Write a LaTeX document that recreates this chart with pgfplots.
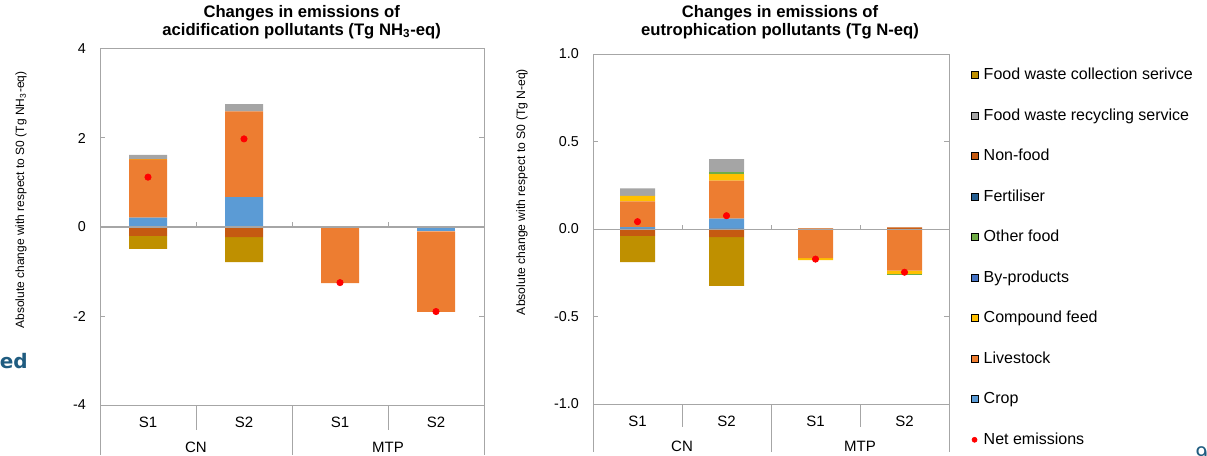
\documentclass[border=0pt]{standalone}
\usepackage{pgfplots}
\pgfplotsset{compat=1.18}
\usepackage{pgfplotstable}
\usepackage{fontspec}
\setmainfont{Liberation Sans}
\newfontfamily\dejavu{DejaVu Sans}

\definecolor{ccoll}{HTML}{BF9000}
\definecolor{crecy}{HTML}{A5A5A5}
\definecolor{cnonf}{HTML}{C55A11}
\definecolor{cfert}{HTML}{255E91}
\definecolor{coth}{HTML}{70AD47}
\definecolor{cbyp}{HTML}{4472C4}
\definecolor{ccomp}{HTML}{FFC000}
\definecolor{clive}{HTML}{ED7D31}
\definecolor{ccrop}{HTML}{5B9BD5}
\definecolor{fgray}{HTML}{A6A6A6}
\definecolor{teal}{HTML}{1F5C80}

\newcommand\tk{\fontsize{8.6}{10}\selectfont}
\newcommand\ck{\fontsize{9}{10.5}\selectfont}
\newcommand\lgfont{\fontsize{9.6}{11}\selectfont}

% acidification, positive and negative parts (Tg NH3-eq)
\pgfplotstableread{
x crop live comp byp oth fert nonf recy coll
0 0.21 1.31 0.01 0 0 0 0 0.09 0
1 0.67 1.93 0 0 0 0 0 0.16 0
2 0 0 0 0 0 0 0 0 0
3 0 0 0 0 0 0 0 0 0
}\acidpos
\pgfplotstableread{
x crop live comp byp oth fert nonf recy coll
0 0 0 0 0 0 0 -0.20 0 -0.29
1 0 0 0 0 0 0 -0.23 0 -0.56
2 0 -1.26 0 0 0 0 0 0 0
3 -0.10 -1.81 0 0 0 0 0 0 0
}\acidneg
\pgfplotstableread{
x net
0 1.12
1 1.98
2 -1.25
3 -1.90
}\acidnet

% eutrophication (Tg N-eq)
\pgfplotstableread{
x crop live comp byp oth fert nonf recy coll
0 0.011 0.147 0.032 0 0 0 0 0.042 0
1 0.059 0.217 0.038 0 0.013 0 0 0.073 0
2 0 0 0 0 0 0 0.004 0 0
3 0 0 0 0 0 0 0.010 0 0
}\eutpos
\pgfplotstableread{
x crop live comp byp oth fert nonf recy coll
0 0 0 0 0 0 0 -0.040 0 -0.150
1 0 0 0 0 0 0 -0.047 0 -0.278
2 0 -0.167 -0.011 0 0 0 0 0 0
3 0 -0.238 -0.019 0 -0.005 0 0 0 0
}\eutneg
\pgfplotstableread{
x net
0 0.042
1 0.076
2 -0.172
3 -0.247
}\eutnet

\newcommand\bars[1]{%
\addplot[fill=ccrop, draw=none] table[x=x,y=crop]{#1};
\addplot[fill=clive, draw=none] table[x=x,y=live]{#1};
\addplot[fill=ccomp, draw=none] table[x=x,y=comp]{#1};
\addplot[fill=cbyp, draw=none] table[x=x,y=byp]{#1};
\addplot[fill=coth, draw=none] table[x=x,y=oth]{#1};
\addplot[fill=cfert, draw=none] table[x=x,y=fert]{#1};
\addplot[fill=cnonf, draw=none] table[x=x,y=nonf]{#1};
\addplot[fill=crecy, draw=none] table[x=x,y=recy]{#1};
\addplot[fill=ccoll, draw=none] table[x=x,y=coll]{#1};
}

\pgfplotsset{
  common/.style={scale only axis, anchor=south west, xmin=-0.5, xmax=3.5,
    enlargelimits=false, clip=false,
    /pgf/number format/assume math mode=true,
    tick label style={font=\tk}},
  frame/.style={axis line style={draw=fgray, line width=0.6pt},
    xtick={0,1,2,3}, xticklabels={S1,S2,S1,S2},
    major x tick style={draw=none},
    xticklabel style={anchor=center, yshift=-10.5pt, font=\ck},
    ytick style={draw=fgray, line width=0.6pt},
    tick align=inside, major tick length=3pt,
    yticklabel style={xshift=-5pt}},
}

\begin{document}
\begin{tikzpicture}
\useasboundingbox (0,0) rectangle (724.2pt,273pt);

%================ LEFT CHART ================
\begin{axis}[common, frame, at={(60pt,30pt)}, width=230.4pt, height=213.6pt,
  ymin=-4, ymax=4, ytick={-4,-2,0,2,4}, ybar stacked, bar width=22.8pt]
\bars{\acidpos}
\end{axis}
\begin{axis}[common, hide axis, at={(60pt,30pt)}, width=230.4pt, height=213.6pt,
  ymin=-4, ymax=4, ybar stacked, bar width=22.8pt]
\bars{\acidneg}
\end{axis}
\begin{axis}[common, hide axis, at={(60pt,30pt)}, width=230.4pt, height=213.6pt,
  ymin=-4, ymax=4]
\draw[fgray, line width=0.6pt] (axis cs:-0.5,0) -- (axis cs:3.5,0);
\draw[fgray, line width=0.6pt] (axis cs:0.5,0) -- ++(0pt,3pt);
\draw[fgray, line width=0.6pt] (axis cs:1.5,0) -- ++(0pt,3pt);
\draw[fgray, line width=0.6pt] (axis cs:2.5,0) -- ++(0pt,3pt);
\draw[fgray, line width=0.6pt] (axis cs:0.5,-4) -- ++(0pt,-15pt);
\draw[fgray, line width=0.6pt] (axis cs:2.5,-4) -- ++(0pt,-15pt);
\draw[fgray, line width=0.6pt] (axis cs:-0.5,-4) -- ++(0pt,-30pt);
\draw[fgray, line width=0.6pt] (axis cs:1.5,-4) -- ++(0pt,-30pt);
\draw[fgray, line width=0.6pt] (axis cs:3.5,-4) -- ++(0pt,-30pt);
\node[font=\ck] at (axis cs:0.5,-4) [yshift=-25.5pt] {CN};
\node[font=\ck] at (axis cs:2.5,-4) [yshift=-25.5pt] {MTP};
\addplot[only marks, mark=*, mark size=1.9pt, color=red] table[x=x,y=net]{\acidnet};
\end{axis}

%================ RIGHT CHART ================
\begin{axis}[common, frame, at={(355.8pt,30.6pt)}, width=213.6pt, height=210pt,
  ymin=-1, ymax=1, ytick={-1,-0.5,0,0.5,1},
  yticklabel style={/pgf/number format/.cd, fixed, fixed zerofill, precision=1},
  ybar stacked, bar width=21pt]
\bars{\eutpos}
\end{axis}
\begin{axis}[common, hide axis, at={(355.8pt,30.6pt)}, width=213.6pt, height=210pt,
  ymin=-1, ymax=1, ybar stacked, bar width=21pt]
\bars{\eutneg}
\end{axis}
\begin{axis}[common, hide axis, at={(355.8pt,30.6pt)}, width=213.6pt, height=210pt,
  ymin=-1, ymax=1,
  legend image code/.code={\fill[#1] (0pt,-2.1pt) rectangle (4.2pt,2.1pt);},
  legend cell align=left,
  legend style={draw=none, fill=none, at={(1.061,0.962)}, anchor=north west,
    font=\lgfont, inner sep=0pt, row sep=15.1pt,
    nodes={inner sep=0pt, text height=7.2pt, text depth=2pt},
    /tikz/every odd column/.style={column sep=3pt}}]
\addlegendimage{fill=ccoll}\addlegendentry{Food waste collection serivce}
\addlegendimage{fill=crecy}\addlegendentry{Food waste recycling service}
\addlegendimage{fill=cnonf}\addlegendentry{Non-food}
\addlegendimage{fill=cfert}\addlegendentry{Fertiliser}
\addlegendimage{fill=coth}\addlegendentry{Other food}
\addlegendimage{fill=cbyp}\addlegendentry{By-products}
\addlegendimage{fill=ccomp}\addlegendentry{Compound feed}
\addlegendimage{fill=clive}\addlegendentry{Livestock}
\addlegendimage{fill=ccrop}\addlegendentry{Crop}
\draw[fgray, line width=0.6pt] (axis cs:-0.5,0) -- (axis cs:3.5,0);
\draw[fgray, line width=0.6pt] (axis cs:0.5,0) -- ++(0pt,2.5pt);
\draw[fgray, line width=0.6pt] (axis cs:1.5,0) -- ++(0pt,2.5pt);
\draw[fgray, line width=0.6pt] (axis cs:2.5,0) -- ++(0pt,2.5pt);
\draw[fgray, line width=0.6pt] (axis cs:0.5,-1) -- ++(0pt,-13.8pt);
\draw[fgray, line width=0.6pt] (axis cs:2.5,-1) -- ++(0pt,-13.8pt);
\draw[fgray, line width=0.6pt] (axis cs:-0.5,-1) -- ++(0pt,-28.8pt);
\draw[fgray, line width=0.6pt] (axis cs:1.5,-1) -- ++(0pt,-28.8pt);
\draw[fgray, line width=0.6pt] (axis cs:3.5,-1) -- ++(0pt,-28.8pt);
\node[font=\ck] at (axis cs:0.5,-1) [yshift=-25.5pt] {CN};
\node[font=\ck] at (axis cs:2.5,-1) [yshift=-25.5pt] {MTP};
\addplot[only marks, mark=*, mark size=1.9pt, color=red,
  legend image code/.code={\fill[red] (1.9pt,0pt) circle (1.5pt);}]
  table[x=x,y=net]{\eutnet};
\addlegendentry{Net emissions}
\end{axis}

%================ TEXTS ================
\node[font=\bfseries\fontsize{10}{10.8}\selectfont, align=center] at (181pt,259.8pt)
  {Changes in emissions of\\acidification pollutants (Tg NH\textsubscript{3}-eq)};
\node[font=\bfseries\fontsize{10}{10.8}\selectfont, align=center] at (468pt,259.8pt)
  {Changes in emissions of\\eutrophication pollutants (Tg N-eq)};
\node[rotate=90, font=\fontsize{7.2}{9}\selectfont] at (12.6pt,153pt)
  {Absolute change with respect to S0 (Tg NH\textsubscript{3}-eq)};
\node[rotate=90, font=\fontsize{7.3}{9}\selectfont] at (313.2pt,157.8pt)
  {Absolute change with respect to S0 (Tg N-eq)};
\node[anchor=base east, inner sep=0pt, text=teal, font=\dejavu\bfseries\fontsize{12}{14}\selectfont]
  at (16.8pt,52.2pt) {ed};
\node[anchor=north west, inner sep=0pt, text=teal, font=\dejavu\fontsize{12}{14}\selectfont]
  at (717pt,5.5pt) {9};
\end{tikzpicture}
\end{document}
